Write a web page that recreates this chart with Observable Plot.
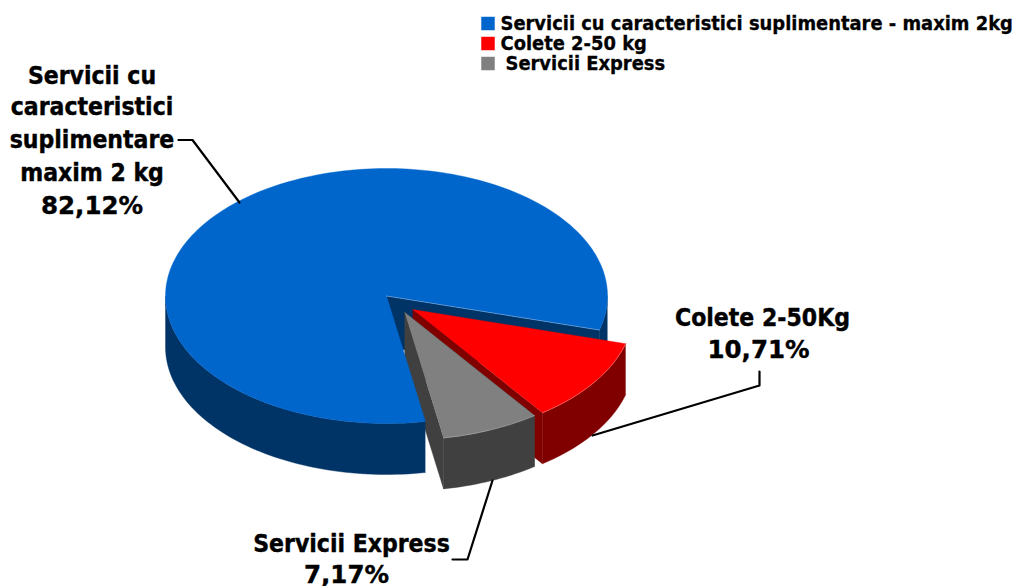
<!DOCTYPE html>
<html><head><meta charset="utf-8">
<script src="https://cdn.jsdelivr.net/npm/d3@7"></script>
<script src="https://cdn.jsdelivr.net/npm/@observablehq/plot@0.6"></script>
<style>html,body{margin:0;padding:0;background:#fff}svg{display:block}</style>
</head><body><div id="chart"></div>
<script>
// Data
const categories = ["Colete 2-50Kg", "Servicii Express", "Servicii cu caracteristici suplimentare maxim 2 kg"];
const shares = [10.71, 7.17, 82.12];
const shareLabels = ["10,71%", "7,17%", "82,12%"];
const legendLabels = ["Servicii cu caracteristici suplimentare - maxim 2kg", "Colete 2-50 kg", " Servicii Express"];
const legendColors = ["#0066cc", "#ff0000", "#808080"];

// Pie geometry (scale domain equals the picture)
const cx = 386, cy = 295.5, rx = 221, ry = 127.5, depth = 51, rotation = 15.5;
const explodeRed = [26.2, 13.6], explodeGrey = [18.2, 16.4];
const topColors = {red: "#ff0000", grey: "#808080", blue: "#0066cc"};
const sideColors = {red: "#800000", grey: "#404040", blue: "#003366"};
const edgeColors = {red: "#ff8080", grey: "#a8a8a8", blue: "#7fb2e5"};

const sweep = v => v / d3.sum(shares) * 360;
const redA = [rotation, rotation + sweep(shares[0])];
const greyA = [redA[1], redA[1] + sweep(shares[1])];
const blueA = [greyA[1], greyA[1] + sweep(shares[2])];

const pt = (t, o, dz = 0) => ({x: cx + o[0] + rx * Math.cos(t * Math.PI / 180), y: cy + o[1] + dz + ry * Math.sin(t * Math.PI / 180)});
const apex = (o, dz = 0) => ({x: cx + o[0], y: cy + o[1] + dz});
function arc(a, b, o, dz = 0) {
  const n = Math.max(2, Math.ceil(Math.abs(b - a) / 1.5)), out = [];
  for (let i = 0; i <= n; i++) out.push(pt(a + (b - a) * i / n, o, dz));
  return out;
}
const sector = (a, b, o) => [apex(o), ...arc(a, b, o)];
const rim = (a, b, o) => [...arc(a, b, o), ...arc(b, a, o, depth)];
const cut = (t, o) => [apex(o), pt(t, o), pt(t, o, depth), apex(o, depth)];
const poly = (pts, fill) => Plot.line(pts, {x: "x", y: "y", fill, stroke: fill, strokeWidth: 0.4});
const edge = (pts, stroke) => Plot.line(pts, {x: "x", y: "y", stroke, strokeWidth: 0.6});

const O = [0, 0];
const marks = [
  // blue: parts behind the exploded slices
  poly(rim(360, blueA[1], O), sideColors.blue),
  poly(cut(blueA[1], O), sideColors.blue),
  // red
  poly(cut(redA[1], explodeRed), sideColors.red),
  poly(rim(redA[0], redA[1], explodeRed), sideColors.red),
  poly(sector(redA[0], redA[1], explodeRed), topColors.red),
  edge(arc(redA[0], redA[1], explodeRed), edgeColors.red),
  // grey
  poly(cut(greyA[0], explodeGrey), sideColors.grey),
  poly(cut(greyA[1], explodeGrey), sideColors.grey),
  poly(rim(greyA[0], greyA[1], explodeGrey), sideColors.grey),
  poly(sector(greyA[0], greyA[1], explodeGrey), topColors.grey),
  edge(arc(greyA[0], greyA[1], explodeGrey), edgeColors.grey),
  // blue: outer wall and top
  poly(rim(blueA[0], 180, O), sideColors.blue),
  poly(sector(blueA[0], blueA[1], O), topColors.blue),
  edge([apex(O), pt(blueA[1], O)], edgeColors.blue),
];

// Leaders
const leaders = [
  [[178, 139.5], [192, 139.5], [239, 202]],
  [[759, 371], [759, 385], [592, 435]],
  [[452, 559], [467, 559], [492, 480]]
];
for (const l of leaders) marks.push(Plot.line(l, {x: d => d[0], y: d => d[1], stroke: "#000", strokeWidth: 2.2}));

// Labels
const font = {fontFamily: "'DejaVu Sans Condensed','DejaVu Sans'", fontWeight: "bold", fill: "#000", stroke: "#000"};
const nameRows = [
  {t: "Servicii cu", x: 91.5, y: 75.5}, {t: "caracteristici", x: 91.5, y: 106.5},
  {t: "suplimentare", x: 91.5, y: 139.5}, {t: "maxim 2 kg", x: 91.5, y: 172.5},
  {t: categories[0], x: 762, y: 317.5}, {t: categories[1], x: 351, y: 543.5}
];
const shareRows = [
  {t: shareLabels[2], x: 91.5, y: 205.5}, {t: shareLabels[0], x: 758, y: 349.5}, {t: shareLabels[1], x: 346, y: 575}
];
marks.push(Plot.text(nameRows, {x: "x", y: "y", text: "t", fontSize: 24.5, strokeWidth: 0.4, textAnchor: "middle", ...font}));
marks.push(Plot.text(shareRows, {x: "x", y: "y", text: "t", fontSize: 24.5, strokeWidth: 0.4, textAnchor: "middle", ...font, fontFamily: "'DejaVu Sans'"}));

// Legend
const legendY = [23, 43, 63];
marks.push(Plot.dot(legendLabels, {x: 487.5, y: (d, i) => legendY[i], symbol: "square", r: 7.6, fill: (d, i) => legendColors[i], stroke: "none"}));
marks.push(Plot.text(legendLabels, {x: (d, i) => i === 2 ? 505 : 500, y: (d, i) => legendY[i], text: d => d.trim(), fontSize: 19.9, strokeWidth: 0.3, textAnchor: "start", ...font}));

const svg = Plot.plot({
  width: 1015, height: 586, margin: 0,
  x: {domain: [0, 1015], range: [0, 1015], axis: null},
  y: {domain: [0, 586], range: [0, 586], axis: null},
  marks
});
document.getElementById("chart").append(svg);
</script></body></html>
